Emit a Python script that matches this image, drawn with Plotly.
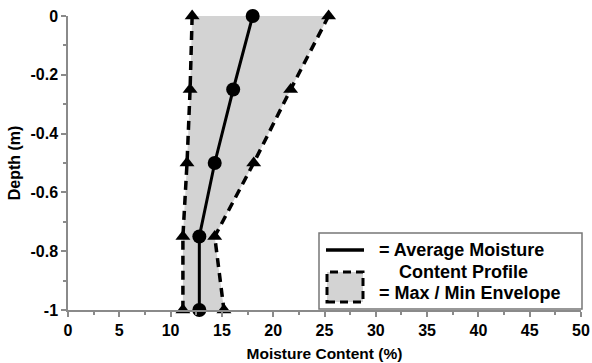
import plotly.graph_objects as go

depth = [0, -0.25, -0.5, -0.75, -1.0]
avg_mc = [18.0, 16.1, 14.3, 12.8, 12.8]
min_mc = [12.1, 11.9, 11.6, 11.2, 11.2]
max_mc = [25.4, 21.7, 18.1, 14.3, 15.2]

x_ticks = [0, 5, 10, 15, 20, 25, 30, 35, 40, 45, 50]
y_ticks = [0, -0.2, -0.4, -0.6, -0.8, -1.0]
y_tick_labels = ["0", "-0.2", "-0.4", "-0.6", "-0.8", "-1"]

FONT = "Liberation Sans"
AX = "#8a8a8a"

fig = go.Figure()

fig.add_trace(go.Scatter(
    x=min_mc + max_mc[::-1], y=depth + depth[::-1],
    fill="toself", fillcolor="#d3d3d3", line=dict(width=0),
    mode="lines", hoverinfo="skip", showlegend=False))

for series in (min_mc, max_mc):
    fig.add_trace(go.Scatter(
        x=series, y=depth, mode="lines+markers",
        line=dict(color="black", width=3.5, dash="9px,6px"),
        marker=dict(symbol="triangle-up", size=13, color="black"),
        cliponaxis=False, showlegend=False))

fig.add_trace(go.Scatter(
    x=avg_mc, y=depth, mode="lines+markers",
    line=dict(color="black", width=3),
    marker=dict(symbol="circle", size=14, color="black"),
    cliponaxis=False, showlegend=False))

L, T, W, H = 68, 16, 513, 294
def px(x):
    return (x - L) / W
def py(y):
    return (T + H - y) / H

shapes = [
    dict(type="rect", xref="paper", yref="paper", x0=px(319), x1=px(582), y0=py(309), y1=py(233),
         line=dict(color="#777", width=1.5), fillcolor="white", layer="above"),
    dict(type="line", xref="paper", yref="paper", x0=px(326), x1=px(364), y0=py(250), y1=py(250),
         line=dict(color="black", width=3.5), layer="above"),
    dict(type="rect", xref="paper", yref="paper", x0=px(327), x1=px(363), y0=py(302), y1=py(272),
         line=dict(color="black", width=3, dash="8px,5px"), fillcolor="#d3d3d3", layer="above"),
]

lf = dict(family=FONT, size=18, color="black", weight=700)
annotations = [
    dict(xref="paper", yref="paper", x=px(377), y=py(250), text="= Average Moisture",
         showarrow=False, xanchor="left", yanchor="middle", font=lf),
    dict(xref="paper", yref="paper", x=px(463), y=py(272), text="Content Profile",
         showarrow=False, xanchor="center", yanchor="middle", font=lf),
    dict(xref="paper", yref="paper", x=px(377), y=py(293), text="= Max / Min Envelope",
         showarrow=False, xanchor="left", yanchor="middle", font=lf),
]

tick_font = dict(family=FONT, size=16, color="black", weight=700)

fig.update_layout(
    width=592, height=363,
    margin=dict(l=L, r=592 - L - W, t=T, b=363 - T - H),
    paper_bgcolor="white", plot_bgcolor="white",
    shapes=shapes, annotations=annotations,
    xaxis=dict(range=[0, 50], tickvals=x_ticks, ticktext=[str(v) for v in x_ticks],
               showgrid=False, zeroline=False, automargin=False,
               showline=True, linecolor=AX, linewidth=1.5,
               ticks="outside", ticklen=5, tickcolor=AX, tickwidth=1.5,
               minor=dict(ticks="outside", ticklen=3, tickcolor=AX, dtick=2.5, tick0=0),
               tickfont=tick_font,
               title=dict(text="Moisture Content (%)",
                          font=dict(family=FONT, size=15.5, color="black", weight=700), standoff=10)),
    yaxis=dict(range=[-1, 0], tickvals=y_ticks, ticktext=y_tick_labels,
               showgrid=False, zeroline=False, automargin=False,
               showline=True, linecolor=AX, linewidth=1.5,
               ticks="outside", ticklen=5, tickcolor=AX, tickwidth=1.5,
               minor=dict(ticks="outside", ticklen=3, tickcolor=AX, dtick=0.1, tick0=0),
               tickfont=tick_font,
               title=dict(text="Depth (m)",
                          font=dict(family=FONT, size=16, color="black", weight=700), standoff=6)),
)

fig.write_html("out.html")
